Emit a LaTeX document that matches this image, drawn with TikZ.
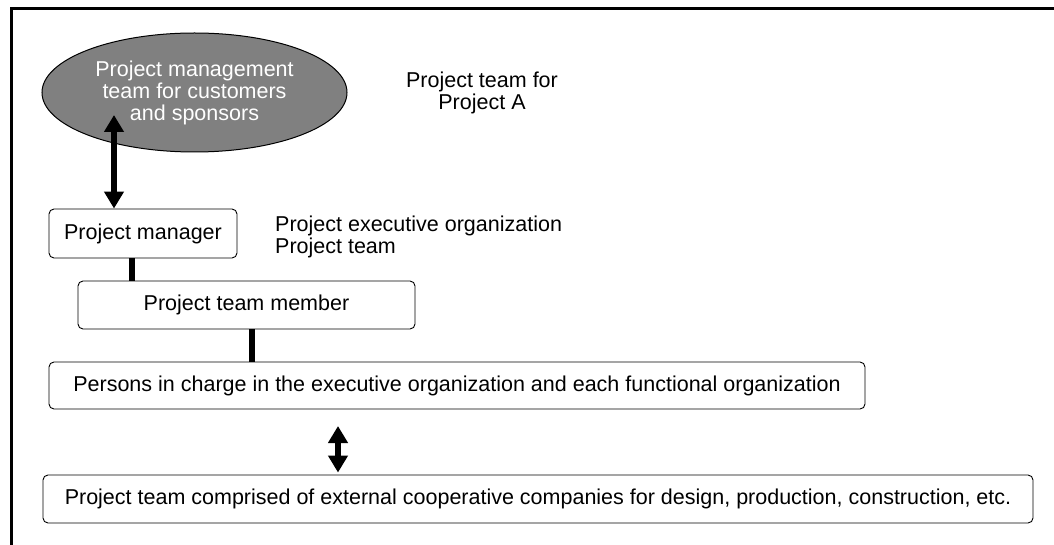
\documentclass[tikz,border=0pt]{standalone}
\usepackage{fontspec}
\setmainfont{Liberation Sans}
\usetikzlibrary{arrows.meta,shapes.geometric}
\definecolor{ovalgray}{RGB}{128,128,128}
\tikzset{box/.style={rectangle, rounded corners=5pt, draw, line width=0.9pt, inner sep=0pt, align=center},
link/.style={line width=6pt},
dblarrow/.style={line width=5.5pt, {Triangle[width=19pt,length=17pt]}-{Triangle[width=19pt,length=17pt]}}}

\begin{document}
\begin{tikzpicture}[x=1pt,y=-1pt,font=\fontsize{21.5}{22}\selectfont]
\useasboundingbox (0,0) rectangle (1054,545);
\draw[line width=3pt] (11,545)--(11,8.5)--(1054,8.5);
\node[ellipse, draw, line width=1pt, fill=ovalgray, text=white, minimum width=305pt, minimum height=119pt, inner sep=0pt, align=center](mgmt) at (194.5,92.5){Project management\\team for customers\\and sponsors};
\node[align=center](teamA) at (482,93){Project team for\\Project A};
\node[box, minimum width=188pt, minimum height=49pt](pm) at (143,233.5){Project manager};
\node[align=left, anchor=west, inner sep=0pt](exec) at (275,237){Project executive organization\\Project team};
\node[box, minimum width=337pt, minimum height=48pt](member) at (246.5,305){Project team member};
\node[box, minimum width=816pt, minimum height=47pt](persons) at (457,385.5){Persons in charge in the executive organization and each functional organization};
\node[box, minimum width=990pt, minimum height=48pt](external) at (538,499){Project team comprised of external cooperative companies for design, production, construction, etc.};
\coordinate (up) at (114,115);
\coordinate (down) at (338,426);
\draw[dblarrow] (up)--(up |- pm.north);
\draw[link] ([xshift=-11pt]pm.south)--([xshift=-11pt]pm.south |- member.north);
\draw[link] ([xshift=5.5pt]member.south)--([xshift=5.5pt]member.south |- persons.north);
\draw[dblarrow, shorten >=2pt] (down)--(down |- external.north);
\end{tikzpicture}
\end{document}
